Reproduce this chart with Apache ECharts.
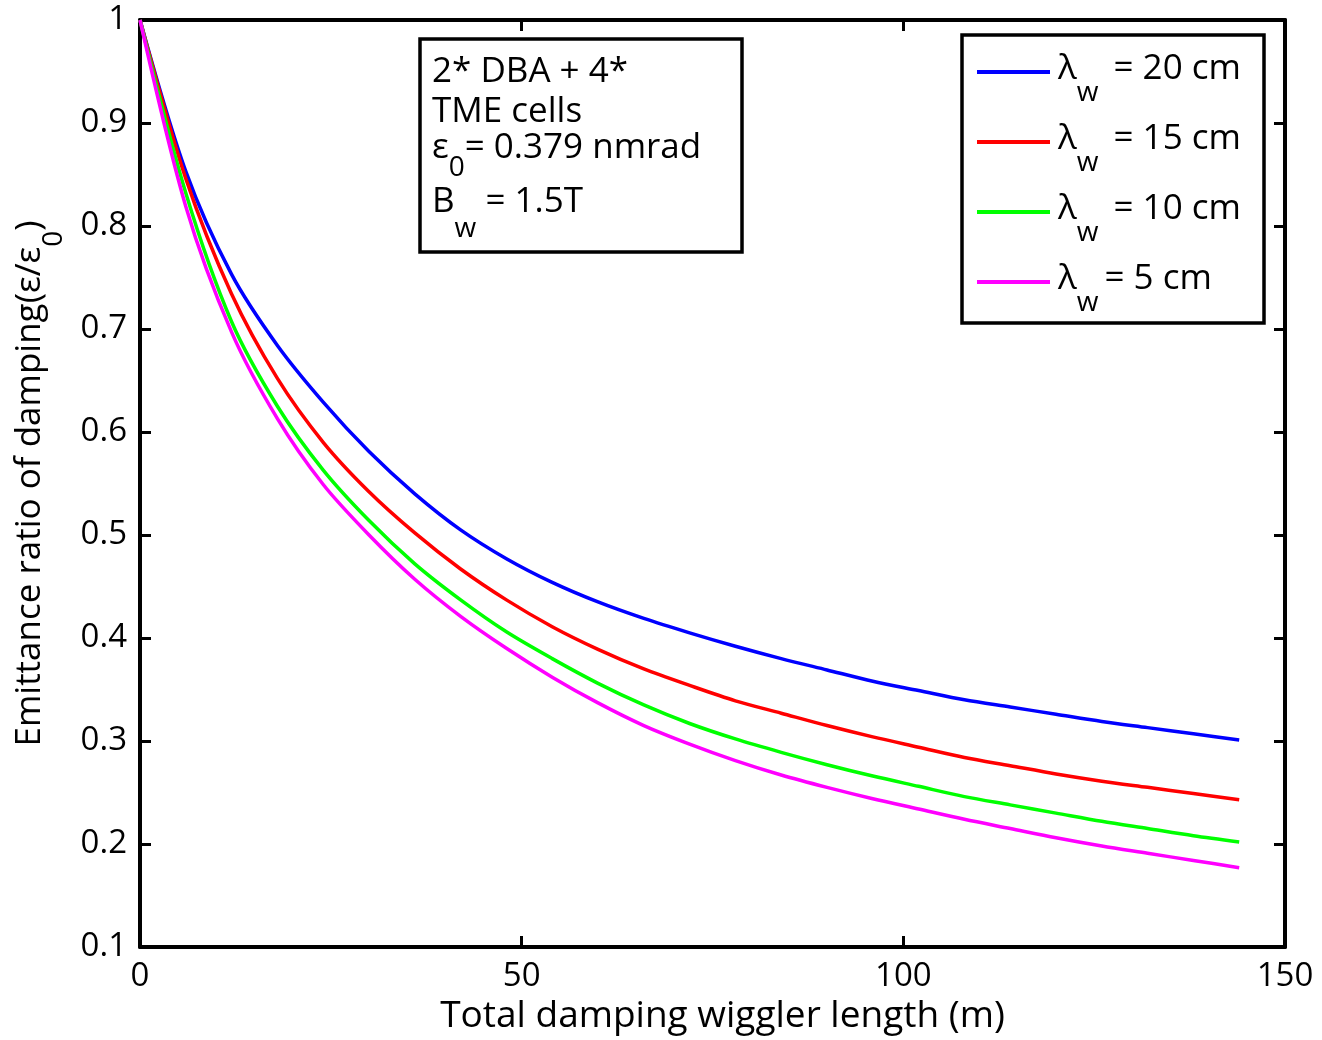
<!DOCTYPE html>
<html>
<head>
<meta charset="utf-8">
<script src="https://cdn.jsdelivr.net/npm/echarts@6/dist/echarts.min.js"></script>
<style>
html,body{margin:0;padding:0;background:#fff;}
#c{width:1322px;height:1040px;}
</style>
</head>
<body>
<div id="c"></div>
<script>
// Total damping wiggler length (m)
const lengths = [0,6,12,18,24,30,36,42,48,54,60,66,72,78,84,90,96,102,108,114,120,126,132,138,144];
// emittance ratio eps/eps0 for each wiggler period
const lw20 = [1.000,0.853,0.753,0.684,0.629,0.581,0.540,0.505,0.477,0.454,0.435,0.419,0.405,0.392,0.380,0.369,0.358,0.349,0.340,0.333,0.326,0.319,0.313,0.307,0.301];
const lw15 = [1.000,0.846,0.734,0.652,0.590,0.542,0.502,0.467,0.437,0.411,0.389,0.370,0.354,0.339,0.327,0.315,0.304,0.294,0.284,0.276,0.268,0.261,0.255,0.249,0.243];
const lw10 = [1.000,0.832,0.707,0.625,0.563,0.514,0.472,0.437,0.406,0.380,0.356,0.335,0.317,0.302,0.289,0.277,0.266,0.256,0.246,0.238,0.230,0.222,0.215,0.208,0.202];
const lw5  = [1.000,0.819,0.697,0.613,0.549,0.500,0.457,0.421,0.390,0.362,0.337,0.315,0.297,0.281,0.267,0.255,0.244,0.234,0.224,0.215,0.206,0.198,0.191,0.184,0.177];
const seriesNames = ['20 cm','15 cm','10 cm','5 cm'];
const seriesColors = ['#0000ff','#ff0000','#00ff00','#ff00ff'];
const seriesValues = [lw20, lw15, lw10, lw5];
const xTicks = {min:0, max:150, interval:50};
const yTicks = {min:0.1, max:1, interval:0.1};

const FONT = 'Open Sans';
const FT = 33;   // tick labels
const FM = 35;   // titles / annotations
const FS = 28;   // subscripts
const chart = echarts.init(document.getElementById('c'), null, {renderer:'canvas'});

const axisCommon = {
  axisLine:{show:true, onZero:false, lineStyle:{color:'#000', width:4}},
  axisTick:{show:true, inside:true, length:11, lineStyle:{color:'#000', width:3}},
  splitLine:{show:false},
};

const series = seriesValues.map((vals, i) => ({
  name: seriesNames[i],
  type:'line',
  data: lengths.map((x, j) => [x, vals[j]]),
  showSymbol:false,
  symbol:'none',
  smooth:0.3,
  lineStyle:{color:seriesColors[i], width:3.5},
  itemStyle:{color:seriesColors[i]},
  z: 2 + i,
  animation:false
}));

const richLegend = {
  l:{fontFamily:FONT, fontSize:FM, color:'#000', verticalAlign:'top', padding:[15,0,0,3], lineHeight:50},
  s:{fontFamily:FONT, fontSize:FS, color:'#000', verticalAlign:'top', padding:[42,6,0,0], lineHeight:70},
  t:{fontFamily:FONT, fontSize:FM, color:'#000', verticalAlign:'top', padding:[15,0,0,0], lineHeight:50}
};

const richBox = {
  m:{fontFamily:FONT, fontSize:FM, color:'#000', verticalAlign:'top', lineHeight:35},
  s0:{fontFamily:FONT, fontSize:FS, color:'#000', verticalAlign:'top', padding:[23,0,0,0], lineHeight:51},
  sw:{fontFamily:FONT, fontSize:FS, color:'#000', verticalAlign:'top', padding:[30,0,0,0], lineHeight:58}
};

const option = {
  backgroundColor:'#fff',
  animation:false,
  textStyle:{fontFamily:FONT},
  grid:{left:140, right:37, top:20, bottom:92, containLabel:false},
  legend:{
    orient:'vertical',
    left:977, top:37, padding:0,
    itemWidth:73, itemHeight:4, itemGap:0,
    icon:'rect',
    data: seriesNames,
    formatter: n => '{l|λ}{s|w}{t|' + (n === '5 cm' ? '= 5 cm' : ' = ' + n) + '}',
    textStyle:{rich:richLegend, fontFamily:FONT, fontSize:FM, color:'#000'},
    selectedMode:false
  },
  xAxis:[
    Object.assign({type:'value', position:'bottom', min:xTicks.min, max:xTicks.max, interval:xTicks.interval,
      name:'Total damping wiggler length (m)', nameLocation:'middle', nameGap:51,
      nameTextStyle:{fontFamily:FONT, fontSize:37, color:'#000', padding:[0,0,0,20]},
      axisLabel:{fontFamily:FONT, fontSize:FT, color:'#000', margin:13}}, axisCommon),
    Object.assign({type:'value', position:'top', min:xTicks.min, max:xTicks.max, interval:xTicks.interval,
      axisLabel:{show:false}}, axisCommon)
  ],
  yAxis:[
    Object.assign({type:'value', position:'left', min:yTicks.min, max:yTicks.max, interval:yTicks.interval,
      name:'{a|Emittance ratio of damping(ε/ε}{s|0}{a|)}', nameLocation:'middle', nameGap:72,
      nameTextStyle:{rich:{
        a:{fontFamily:FONT, fontSize:FM, color:'#000', verticalAlign:'top', lineHeight:35},
        s:{fontFamily:FONT, fontSize:FS, color:'#000', verticalAlign:'top', padding:[27,0,0,0], lineHeight:55}
      }},
      axisLabel:{fontFamily:FONT, fontSize:FT, color:'#000', margin:13}}, axisCommon),
    Object.assign({type:'value', position:'right', min:yTicks.min, max:yTicks.max, interval:yTicks.interval,
      axisLabel:{show:false}}, axisCommon)
  ],
  graphic:[
    {type:'rect', shape:{x:962, y:35, width:302, height:288}, style:{fill:'#fff', stroke:'#000', lineWidth:3.5}, z:-1},
    {type:'group', children:[
      {type:'rect', shape:{x:420, y:39, width:322, height:213}, style:{fill:'#fff', stroke:'#000', lineWidth:3.5}},
      {type:'text', x:432, y:55, style:{text:'{m|2* DBA + 4*}', rich:richBox, verticalAlign:'top'}},
      {type:'text', x:432, y:95, style:{text:'{m|TME cells}', rich:richBox, verticalAlign:'top'}},
      {type:'text', x:432, y:131, style:{text:'{m|ε}{s0|0}{m|= 0.379 nmrad}', rich:richBox, verticalAlign:'top'}},
      {type:'text', x:432, y:185, style:{text:'{m|B}{sw|w}{m| = 1.5T}', rich:richBox, verticalAlign:'top'}}
    ]}
  ],
  series: series
};
chart.setOption(option);
</script>
</body>
</html>
